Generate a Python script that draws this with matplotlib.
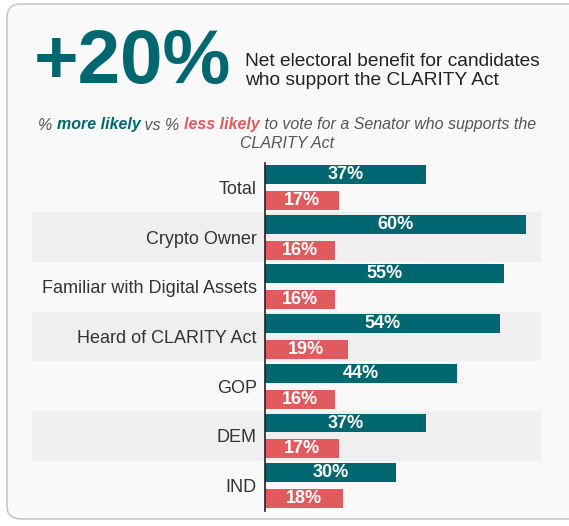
import matplotlib.pyplot as plt
from matplotlib.patches import FancyBboxPatch
import numpy as np

plt.rcParams['font.family'] = ['Liberation Sans', 'DejaVu Sans']

categories = ['Total', 'Crypto Owner', 'Familiar with Digital Assets',
              'Heard of CLARITY Act', 'GOP', 'DEM', 'IND']
more_likely = [37, 60, 55, 54, 44, 37, 30]
less_likely = [17, 16, 16, 19, 16, 17, 18]

TEAL = '#006771'
RED = '#e05a5e'
GREY = '#555555'

W, H = 569, 526
fig = plt.figure(figsize=(W / 100, H / 100), dpi=100)
fig.patch.set_facecolor('white')

# card background
card = FancyBboxPatch((7 / W, 7 / H), 580 / W, 515 / H,
                      boxstyle='round,pad=0,rounding_size=0.025',
                      transform=fig.transFigure, facecolor='#f9f9f9',
                      edgecolor='#c8c8c8', linewidth=1.2, zorder=-5)
fig.patches.append(card)

# headline
fig.text(34 / W, 1 - 64 / H, '+20%', fontsize=55, fontweight='bold',
         color=TEAL, va='center', ha='left')
fig.text(245 / W, 1 - 71 / H,
         'Net electoral benefit for candidates\nwho support the CLARITY Act',
         fontsize=13.8, color='#222222', va='center', ha='left',
         linespacing=1.2)

# mixed-colour subtitle
pieces = [('% ', GREY, 'normal'), ('more likely', TEAL, 'bold'),
          (' vs % ', GREY, 'normal'), ('less likely', RED, 'bold'),
          (' to vote for a Senator who supports the', GREY, 'normal')]
renderer = fig.canvas.get_renderer()
texts = []
for s, c, w in pieces:
    t = fig.text(0, 1 - 125 / H, s, fontsize=11.5, style='italic',
                 fontweight=w, color=c, va='center', ha='left')
    texts.append(t)
widths = [t.get_window_extent(renderer).width for t in texts]
x = 287 - sum(widths) / 2
for t, wd in zip(texts, widths):
    t.set_x(x / W)
    x += wd
fig.text(287 / W, 1 - 143 / H, 'CLARITY Act', fontsize=11.5, style='italic',
         color=GREY, va='center', ha='center')

# bar chart
ax = fig.add_axes([265 / W, 1 - 510.5 / H, 276 / W, 347.9 / H])
ax.set_facecolor('none')
y = np.arange(len(categories))
h = 0.38
off = 0.26
for i in range(len(categories)):
    if i % 2 == 1:
        ax.axhspan(i - 0.5, i + 0.5, xmin=-0.844, xmax=1.0,
                   color='#efefef', clip_on=False, zorder=0, lw=0)

ax.barh(y - off, more_likely, height=h, color=TEAL, zorder=2)
ax.barh(y + off, less_likely, height=h, color=RED, zorder=2)
for i in range(len(categories)):
    ax.text(more_likely[i] / 2, y[i] - off, f'{more_likely[i]}%',
            color='white', fontweight='bold', fontsize=13,
            ha='center', va='center', zorder=3)
    ax.text(less_likely[i] / 2, y[i] + off, f'{less_likely[i]}%',
            color='white', fontweight='bold', fontsize=13,
            ha='center', va='center', zorder=3)

ax.set_xlim(0, 63.4)
ax.set_ylim(len(categories) - 0.5, -0.5)
ax.set_yticks(y)
ax.set_yticklabels(categories, fontsize=13, color='#333333')
ax.tick_params(axis='y', length=0, pad=6)
ax.set_xticks([])
for side in ['top', 'right', 'bottom']:
    ax.spines[side].set_visible(False)
ax.spines['left'].set_color('#222222')
ax.spines['left'].set_linewidth(1.2)

fig.savefig('out.png', dpi=100)
